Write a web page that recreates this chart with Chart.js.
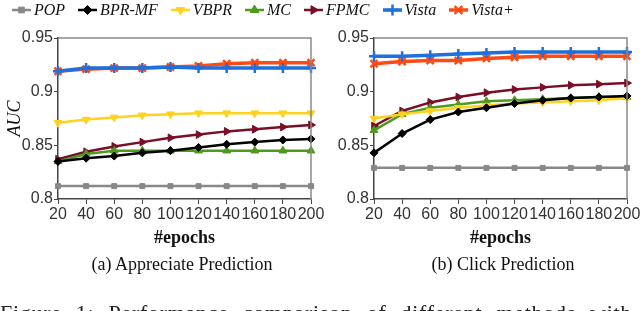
<!DOCTYPE html>
<html>
<head>
<meta charset="utf-8">
<script src="https://cdn.jsdelivr.net/npm/chart.js@4.4.1/dist/chart.umd.min.js"></script>
<style>
  html, body { margin: 0; padding: 0; background: #fff; }
  body { width: 640px; height: 311px; position: relative; overflow: hidden; font-family: 'Liberation Serif', serif; }
  .box { position: absolute; top: 0; height: 311px; }
  #legend { position: absolute; top: 0; left: 11px; height: 19px; display: flex; align-items: center; font-style: italic; font-size: 16px; color: #111; }
  #legend .item { display: flex; align-items: center; margin-right: 12px; }
  #legend canvas { margin-right: 2px; }
  .caption { position: absolute; top: 254px; font-size: 18px; color: #111; text-align: center; width: 320px; }
  #figcap { position: absolute; left: 0; top: 300px; font-size: 22px; color: #222; white-space: nowrap; letter-spacing: 0.7px; word-spacing: 8px; }
</style>
</head>
<body>
<div class="box" style="left:0;width:332px"><canvas id="chart-a"></canvas></div>
<div class="box" style="left:320px;width:320px"><canvas id="chart-b"></canvas></div>
<div id="legend"></div>
<div class="caption" style="left:22px">(a) Appreciate Prediction</div>
<div class="caption" style="left:343px">(b) Click Prediction</div>
<div id="figcap">Figure 1: Performance comparison of different methods with</div>
<script>
const epochs = [20, 40, 60, 80, 100, 120, 140, 160, 180, 200];
const methods = ['POP', 'BPR-MF', 'VBPR', 'MC', 'FPMC', 'Vista', 'Vista+'];

// (a) Appreciate prediction
const popA    = [0.812, 0.812, 0.812, 0.812, 0.812, 0.812, 0.812, 0.812, 0.812, 0.812];
const bprA    = [0.835, 0.838, 0.840, 0.843, 0.845, 0.848, 0.851, 0.853, 0.855, 0.856];
const vbprA   = [0.871, 0.874, 0.876, 0.878, 0.879, 0.880, 0.880, 0.880, 0.880, 0.880];
const mcA     = [0.835, 0.842, 0.845, 0.845, 0.845, 0.845, 0.845, 0.845, 0.845, 0.845];
const fpmcA   = [0.837, 0.844, 0.849, 0.853, 0.857, 0.860, 0.863, 0.865, 0.867, 0.869];
const vistaA  = [0.919, 0.922, 0.922, 0.922, 0.923, 0.922, 0.922, 0.922, 0.922, 0.922];
const vistaPA = [0.919, 0.921, 0.922, 0.922, 0.923, 0.924, 0.926, 0.927, 0.927, 0.927];

// (b) Click prediction
const popB    = [0.829, 0.829, 0.829, 0.829, 0.829, 0.829, 0.829, 0.829, 0.829, 0.829];
const bprB    = [0.843, 0.861, 0.874, 0.881, 0.885, 0.889, 0.892, 0.894, 0.895, 0.896];
const vbprB   = [0.875, 0.879, 0.882, 0.885, 0.887, 0.889, 0.890, 0.891, 0.892, 0.894];
const mcB     = [0.864, 0.879, 0.885, 0.888, 0.891, 0.892, 0.893, 0.894, 0.895, 0.895];
const fpmcB   = [0.868, 0.882, 0.890, 0.895, 0.899, 0.902, 0.904, 0.906, 0.907, 0.908];
const vistaB  = [0.933, 0.933, 0.934, 0.935, 0.936, 0.937, 0.937, 0.937, 0.937, 0.937];
const vistaPB = [0.926, 0.928, 0.929, 0.929, 0.931, 0.932, 0.933, 0.933, 0.933, 0.933];

const yTicks = [0.8, 0.85, 0.9, 0.95];

const styles = [
    { color: '#888888', point: 'rect',     radius: 3.5, width: 2.5 },
    { color: '#000000', point: 'rectRot',  radius: 4,   width: 2.5 },
    { color: '#ffd21f', point: 'triangle', radius: 4.5, width: 2.5, rotation: 180 },
    { color: '#4f9a1e', point: 'triangle', radius: 4.5, width: 2.5 },
    { color: '#7a0e26', point: 'triangle', radius: 4.5, width: 2.5, rotation: 90 },
    { color: '#1f6fdc', point: 'cross',    radius: 5,   width: 3.5 },
    { color: '#ff4a14', point: 'crossRot', radius: 5,   width: 3.5 },
];

function makeDatasets(series) {
    return series.map((data, i) => {
        const s = styles[i];
        return {
            label: methods[i],
            data,
            borderColor: s.color,
            backgroundColor: s.color,
            borderWidth: s.width,
            pointStyle: s.point,
            pointRotation: s.rotation || 0,
            pointRadius: s.radius,
            pointBorderWidth: s.point.startsWith('cross') ? 2.5 : 1,
            tension: 0,
        };
    });
}

// gray box round the plot area
const frame = {
    id: 'frame',
    afterDraw(chart) {
        const { ctx, chartArea: a } = chart;
        ctx.save();
        ctx.strokeStyle = '#8a8a8a';
        ctx.lineWidth = 1.5;
        ctx.beginPath();
        ctx.moveTo(a.left, a.top);
        ctx.lineTo(a.right, a.top);
        ctx.lineTo(a.right, a.bottom);
        ctx.stroke();
        ctx.restore();
    }
};

const tickFont = { family: "'Liberation Sans Narrow', 'Liberation Sans', sans-serif", size: 16 };

function createChart(id, series, axisWidth, padRight, showTitle) {
    return new Chart(document.getElementById(id), {
        type: 'line',
        data: { labels: epochs, datasets: makeDatasets(series) },
        options: {
            responsive: true,
            maintainAspectRatio: false,
            animation: false,
            layout: { padding: { top: 38, right: padRight, bottom: 62, left: 0 } },
            plugins: { legend: { display: false }, tooltip: { enabled: false } },
            scales: {
                x: {
                    type: 'category',
                    offset: false,
                    grid: { drawOnChartArea: false, tickLength: 5, color: '#444' },
                    border: { color: '#444', width: 1.5 },
                    ticks: { color: '#333', font: tickFont, padding: 1, autoSkip: false, maxRotation: 0 },
                    title: { display: true, text: '#epochs', color: '#111', padding: 0,
                             font: { family: "'Liberation Serif', serif", size: 18, weight: 'bold' } },
                    afterFit(scale) { scale.height = 50; scale.paddingLeft = 0; scale.paddingRight = 0; },
                },
                y: {
                    min: 0.8, max: 0.95,
                    afterBuildTicks(scale) { scale.ticks = yTicks.map(v => ({ value: v })); },
                    grid: { drawOnChartArea: false, tickLength: 4, color: '#444' },
                    border: { color: '#444', width: 1.5 },
                    ticks: { color: '#333', font: tickFont, padding: 1, callback: v => String(+v.toFixed(2)) },
                    title: { display: showTitle, text: 'AUC', color: '#111', padding: { top: 4, bottom: 0 },
                             font: { family: "'Liberation Serif', serif", size: 18, style: 'italic' } },
                    afterFit(scale) { scale.width = axisWidth; },
                }
            }
        },
        plugins: [frame]
    });
}

createChart('chart-a', [popA, bprA, vbprA, mcA, fpmcA, vistaA, vistaPA], 58, 21, true);
createChart('chart-b', [popB, bprB, vbprB, mcB, fpmcB, vistaB, vistaPB], 54, 13, false);

// legend row: line segment with marker, then name
const legend = document.getElementById('legend');
methods.forEach((name, i) => {
    const s = styles[i];
    const item = document.createElement('div');
    item.className = 'item';
    const c = document.createElement('canvas');
    c.width = 21; c.height = 16;
    const ctx = c.getContext('2d');
    ctx.strokeStyle = s.color;
    ctx.fillStyle = s.color;
    ctx.lineWidth = s.width;
    ctx.beginPath(); ctx.moveTo(1, 8); ctx.lineTo(20, 8); ctx.stroke();
    ctx.lineWidth = s.point.startsWith('cross') ? 2.5 : 1;
    Chart.helpers.drawPoint(ctx, { pointStyle: s.point, rotation: s.rotation || 0, radius: s.radius + 0.5, borderWidth: ctx.lineWidth }, 10.5, 8);
    item.appendChild(c);
    const t = document.createElement('span');
    t.textContent = name;
    item.appendChild(t);
    legend.appendChild(item);
});
</script>
</body>
</html>
